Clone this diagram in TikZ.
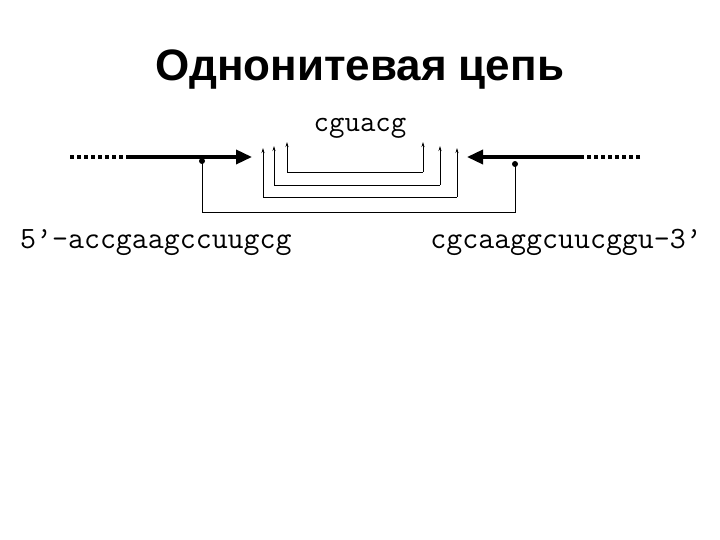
\documentclass[tikz,border=0pt]{standalone}
\usepackage{fontspec}
\setmainfont{Liberation Sans}
\usetikzlibrary{arrows.meta}
\begin{document}
\begin{tikzpicture}[x=1pt,y=-1pt,
  thick line/.style={line width=3.5pt},
  dotline/.style={line width=3.5pt, dash pattern=on 4pt off 3pt},
  bond/.style={line width=0.8pt},
  small/.style={bond,-{Stealth[length=5pt,width=3pt]}},
  seq/.style={font=\ttfamily\fontsize{31}{33}\selectfont, inner sep=0pt}]
\useasboundingbox (0,0) rectangle (720,540);
\node[font=\bfseries\fontsize{44}{46}\selectfont] (title) at (360,70) {Однонитевая цепь};
\node[seq, anchor=base, font=\ttfamily\fontsize{30}{32}\selectfont] (loop) at (360,132) {cguacg};
\node[seq, anchor=base west] (s5) at (20,248) {5’-accgaagccuugcg};
\node[seq, anchor=base east] (s3) at (702,248) {cgcaaggcuucggu-3’};
% left strand
\coordinate (l0) at (70,157); \coordinate (l1) at (128,157); \coordinate (l2) at (252,157);
\draw[dotline] (l0) -- (l1);
\draw[thick line,-{Triangle[length=16pt,width=14pt]}] (l1) -- (l2);
% right strand
\coordinate (r0) at (640,157); \coordinate (r1) at (582,157); \coordinate (r2) at (467,157);
\draw[dotline] (r0) -- (r1);
\draw[thick line,-{Triangle[length=16pt,width=14pt]}] (r1) -- (r2);
% outer bond
\coordinate (ld) at (202,161); \coordinate (rd) at (515,164);
\fill (ld) circle (3pt); \fill (rd) circle (3pt);
\draw[bond] (ld) -- (202,212) -- (515,212) -- (rd);
% inner bonds
\coordinate (a1) at (287,142); \coordinate (b1) at (423,142);
\coordinate (a2) at (274,146); \coordinate (b2) at (440,146);
\coordinate (a3) at (263,148); \coordinate (b3) at (457,148);
\draw[small] (287,172) -- (a1); \draw[small] (423,172) -- (b1);
\draw[bond] (287,172) -- (423,172);
\draw[small] (274,185) -- (a2); \draw[small] (440,185) -- (b2);
\draw[bond] (274,185) -- (440,185);
\draw[small] (263,197) -- (a3); \draw[small] (457,197) -- (b3);
\draw[bond] (263,197) -- (457,197);
\end{tikzpicture}
\end{document}
